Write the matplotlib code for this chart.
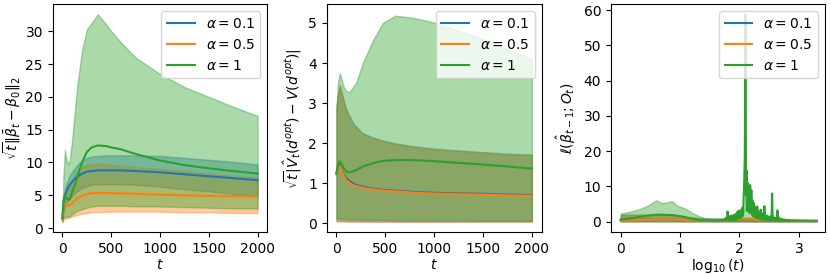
import numpy as np
import matplotlib
matplotlib.use('Agg')
import matplotlib.pyplot as plt

labels = [r'$\alpha=0.1$', r'$\alpha=0.5$', r'$\alpha=1$']
colors = ['C0', 'C1', 'C2']

# ---- panel 1: sqrt(t)||beta_bar - beta0||
t1 = [0, 10, 25, 40, 60, 75, 100, 125, 150, 200, 250, 300, 363, 450, 500, 600, 750, 1000, 1250, 1500, 1750, 2000]
b1_mid = [1.5, 3.5, 5.0, 5.6, 6.2, 6.6, 7.1, 7.5, 7.8, 8.3, 8.6, 8.7, 8.8, 8.8, 8.8, 8.8, 8.7, 8.5, 8.2, 7.9, 7.6, 7.3]
b1_hi = [2.0, 4.5, 5.8, 6.8, 7.5, 8.0, 8.6, 9.1, 9.6, 10.3, 10.7, 10.9, 11.0, 11.1, 11.1, 11.1, 11.1, 11.0, 10.7, 10.4, 10.1, 9.7]
b1_lo = [1.0, 2.2, 3.3, 3.8, 4.2, 4.5, 4.9, 5.3, 5.6, 6.1, 6.4, 6.6, 6.7, 6.7, 6.7, 6.7, 6.6, 6.3, 5.9, 5.6, 5.2, 4.9]
o1_mid = [1.2, 3.6, 3.7, 3.5, 3.4, 3.45, 3.8, 4.2, 4.5, 4.9, 5.2, 5.3, 5.35, 5.35, 5.3, 5.3, 5.2, 5.1, 5.0, 4.9, 4.85, 4.8]
o1_hi = [1.6, 4.5, 5.3, 5.5, 5.8, 6.3, 7.3, 8.0, 8.6, 9.3, 9.6, 9.8, 9.8, 9.7, 9.6, 9.5, 9.3, 9.0, 8.7, 8.3, 8.0, 7.7]
o1_lo = [0.9, 1.3, 1.5, 1.5, 1.5, 1.6, 1.8, 1.9, 2.0, 2.2, 2.3, 2.4, 2.4, 2.5, 2.5, 2.5, 2.5, 2.5, 2.4, 2.4, 2.3, 2.3]
g1_mid = [1.5, 4.2, 5.0, 4.6, 4.3, 4.4, 5.5, 6.5, 7.7, 10.0, 11.6, 12.3, 12.6, 12.5, 12.3, 12.0, 11.3, 10.3, 9.6, 9.1, 8.7, 8.3]
g1_hi = [1.5, 8.0, 11.9, 10.5, 9.7, 10.5, 13.5, 17.5, 21.5, 27.0, 30.3, 31.3, 32.6, 31.0, 30.0, 28.3, 26.0, 23.5, 21.5, 20.0, 18.5, 17.1]
g1_lo = [1.2, 1.5, 1.8, 1.7, 1.7, 1.8, 2.1, 2.4, 2.6, 2.9, 3.1, 3.3, 3.4, 3.4, 3.4, 3.4, 3.3, 3.3, 3.2, 3.1, 3.0, 3.0]

# ---- panel 2: sqrt(t)|V_hat - V|
t2 = [0, 15, 35, 50, 75, 100, 130, 170, 200, 270, 370, 475, 600, 780, 950, 1200, 1500, 1750, 2000]
b2_mid = [1.25, 1.4, 1.46, 1.38, 1.22, 1.13, 1.06, 1.0, 0.96, 0.92, 0.87, 0.84, 0.82, 0.79, 0.77, 0.75, 0.74, 0.72, 0.71]
b2_hi = [2.9, 3.2, 3.45, 3.3, 3.05, 2.85, 2.7, 2.5, 2.42, 2.25, 2.15, 2.07, 2.0, 1.93, 1.88, 1.83, 1.78, 1.74, 1.72]
b2_lo = [0.07, 0.07, 0.06, 0.06, 0.06, 0.06, 0.06, 0.06, 0.06, 0.06, 0.05, 0.05, 0.05, 0.05, 0.05, 0.05, 0.05, 0.05, 0.05]
o2_mid = [1.22, 1.38, 1.43, 1.35, 1.18, 1.08, 1.02, 0.96, 0.93, 0.89, 0.85, 0.82, 0.8, 0.77, 0.75, 0.73, 0.72, 0.7, 0.69]
o2_hi = [2.85, 3.2, 3.42, 3.28, 3.02, 2.82, 2.67, 2.48, 2.4, 2.23, 2.12, 2.05, 1.98, 1.91, 1.86, 1.81, 1.76, 1.72, 1.7]
o2_lo = [0.05, 0.05, 0.05, 0.05, 0.05, 0.05, 0.04, 0.04, 0.04, 0.04, 0.04, 0.04, 0.04, 0.04, 0.04, 0.04, 0.04, 0.04, 0.04]
g2_mid = [1.25, 1.45, 1.55, 1.5, 1.38, 1.3, 1.27, 1.3, 1.33, 1.42, 1.5, 1.56, 1.58, 1.58, 1.56, 1.52, 1.47, 1.42, 1.37]
g2_hi = [2.9, 3.5, 3.75, 3.6, 3.4, 3.3, 3.27, 3.4, 3.5, 4.0, 4.55, 5.0, 5.18, 5.13, 5.04, 4.85, 4.6, 4.35, 4.1]
g2_lo = [0.13, 0.12, 0.12, 0.11, 0.11, 0.1, 0.1, 0.1, 0.1, 0.09, 0.09, 0.09, 0.08, 0.08, 0.08, 0.08, 0.07, 0.07, 0.07]

# ---- panel 3: loss vs log10(t)
lx3 = [0, 0.15, 0.3, 0.45, 0.6, 0.7, 0.8, 0.87, 0.95, 1.03, 1.1, 1.2, 1.3, 1.4, 1.5, 1.6, 1.7, 1.8, 1.9,
       2.0, 2.05, 2.09, 2.1, 2.11, 2.15, 2.2, 2.3, 2.4, 2.5, 2.55, 2.6, 2.7, 2.8, 2.9, 3.0, 3.1, 3.2, 3.301]
b3_mid = [0.35, 0.45, 0.55, 0.65, 0.7, 0.72, 0.7, 0.68, 0.6, 0.55, 0.5, 0.42, 0.35, 0.3, 0.28, 0.3, 0.35, 0.4, 0.45,
          0.5, 0.55, 0.55, 0.55, 0.55, 0.55, 0.5, 0.45, 0.4, 0.35, 0.35, 0.3, 0.28, 0.25, 0.25, 0.22, 0.22, 0.2, 0.2]
b3_hi = [2.0, 2.0, 2.0, 2.0, 2.0, 2.0, 2.0, 1.9, 1.8, 1.6, 1.5, 1.3, 1.1, 1.0, 1.0, 1.0, 1.0, 0.95, 0.9,
         0.9, 1.0, 1.0, 1.0, 1.0, 1.0, 1.0, 0.9, 0.8, 0.7, 0.7, 0.6, 0.5, 0.5, 0.5, 0.45, 0.45, 0.45, 0.45]
b3_lo = [0.1, 0.1, 0.1, 0.1, 0.1, 0.1, 0.1, 0.1, 0.1, 0.1, 0.1, 0.08, 0.08, 0.08, 0.08, 0.08, 0.08, 0.08, 0.08,
         0.08, 0.08, 0.08, 0.08, 0.08, 0.08, 0.08, 0.07, 0.07, 0.07, 0.07, 0.07, 0.06, 0.06, 0.06, 0.06, 0.06, 0.06, 0.06]
o3_mid = [0.3, 0.4, 0.5, 0.6, 0.68, 0.7, 0.68, 0.65, 0.58, 0.52, 0.47, 0.4, 0.33, 0.28, 0.25, 0.27, 0.32, 0.4, 0.5,
          0.6, 0.65, 0.65, 0.65, 0.65, 0.65, 0.6, 0.55, 0.45, 0.4, 0.35, 0.32, 0.28, 0.25, 0.24, 0.22, 0.2, 0.2, 0.2]
o3_hi = [1.9, 1.9, 1.95, 2.0, 2.0, 2.0, 1.95, 1.85, 1.7, 1.5, 1.3, 1.1, 0.9, 0.8, 0.7, 0.7, 0.7, 0.8, 0.9,
         1.0, 1.1, 1.1, 1.2, 1.2, 1.1, 1.1, 1.0, 0.9, 0.7, 0.7, 0.6, 0.5, 0.45, 0.45, 0.4, 0.4, 0.4, 0.4]
o3_lo = [0.08, 0.08, 0.08, 0.08, 0.08, 0.08, 0.08, 0.08, 0.08, 0.08, 0.07, 0.07, 0.07, 0.07, 0.07, 0.07, 0.07, 0.07, 0.07,
         0.07, 0.07, 0.07, 0.07, 0.07, 0.07, 0.07, 0.06, 0.06, 0.06, 0.06, 0.06, 0.05, 0.05, 0.05, 0.05, 0.05, 0.05, 0.05]
g3_hi = [2.3, 2.8, 3.5, 4.5, 6.1, 5.2, 5.6, 5.8, 4.5, 4.1, 3.6, 2.5, 1.7, 1.1, 0.8, 0.7, 0.8, 1.2, 1.5,
         2.0, 2.5, 4.0, 59.0, 4.0, 3.5, 3.0, 2.3, 1.8, 1.5, 2.0, 1.2, 0.9, 0.7, 0.6, 0.55, 0.5, 0.5, 0.5]
g3_lo = [0.15, 0.15, 0.15, 0.15, 0.15, 0.15, 0.15, 0.12, 0.12, 0.12, 0.12, 0.1, 0.1, 0.1, 0.1, 0.1, 0.1, 0.1, 0.1,
         0.1, 0.1, 0.1, 0.1, 0.1, 0.1, 0.1, 0.1, 0.1, 0.08, 0.08, 0.08, 0.08, 0.08, 0.08, 0.08, 0.08, 0.08, 0.08]

# green mean is noisy around log10(t) ~ 2
g3_x_early = [0, 0.15, 0.3, 0.45, 0.6, 0.7, 0.8, 0.87, 0.95, 1.03, 1.1, 1.2, 1.3, 1.4, 1.5, 1.6, 1.7]
g3_early = [0.6, 0.9, 1.3, 1.7, 2.0, 2.0, 1.9, 1.9, 1.7, 1.5, 1.2, 0.8, 0.55, 0.4, 0.35, 0.3, 0.35]
g3_noisy = [0.5, 0.9, 0.4, 1.1, 0.6,
            2.9, 1.0, 0.5,
            1.6, 0.5, 1.3, 0.4, 1.8, 0.6, 1.5, 0.4, 2.0, 0.7, 1.7, 0.5,
            2.4, 0.8, 2.9, 1.0, 3.1, 1.2, 2.6, 0.9, 3.4, 1.4, 4.0,
            1.6, 6.5, 11.5, 18.9, 58.8, 7.5, 14.5, 3.0, 11.0, 3.5, 9.5, 2.5, 10.4, 3.0, 9.0,
            2.0, 6.0, 1.5, 5.3, 2.0, 4.2, 1.2, 3.6, 1.0, 4.3, 1.2, 3.0, 0.9, 2.8, 0.8,
            3.4, 0.7, 2.4, 0.6, 2.2, 0.6, 4.4, 0.6, 1.9, 1.5, 0.5, 1.7, 0.5, 1.4, 0.5,
            1.3, 0.4, 1.5, 0.4, 8.0, 0.4, 1.1, 0.4, 1.0, 0.3, 1.0, 0.3, 0.9, 3.2, 0.3,
            1.3, 0.3, 0.8, 0.3, 0.8, 0.3, 0.7, 0.3, 0.6, 0.3, 0.6, 0.3, 0.5, 0.3, 0.5, 0.3, 0.45, 0.3, 0.4, 0.3]
g3_x_late = [2.9, 3.0, 3.1, 3.2, 3.301]
g3_late = [0.35, 0.3, 0.3, 0.28, 0.28]

g3_x = np.concatenate([g3_x_early, 1.75 + 0.01 * np.arange(len(g3_noisy)), g3_x_late])
g3_mid = np.concatenate([g3_early, g3_noisy, g3_late])


fig = plt.figure(figsize=(8.3, 2.77), dpi=100)
ax1 = fig.add_axes([0.0635, 0.1614, 0.2586, 0.8224])
ax2 = fig.add_axes([0.3936, 0.1614, 0.2590, 0.8224])
ax3 = fig.add_axes([0.7361, 0.1614, 0.2578, 0.8224])

def draw(ax, x, mids, his, los, mx=None):
    for i in range(3):
        xi = x if (mx is None or i < 2) else mx
        ax.plot(xi, mids[i], color=colors[i], lw=1.5, label=labels[i])
        ax.fill_between(x, los[i], his[i], color=colors[i], alpha=0.4)

draw(ax1, t1, [b1_mid, o1_mid, g1_mid], [b1_hi, o1_hi, g1_hi], [b1_lo, o1_lo, g1_lo])
ax1.set_xlim(-100, 2100)
ax1.set_ylim(-0.65, 34.1)
ax1.set_xlabel(r'$t$', labelpad=1.5)
ax1.set_ylabel(r'$\sqrt{t}\|\bar{\beta}_t-\beta_0\|_2$', labelpad=2)
ax1.legend(loc='upper right')

draw(ax2, t2, [b2_mid, o2_mid, g2_mid], [b2_hi, o2_hi, g2_hi], [b2_lo, o2_lo, g2_lo])
ax2.set_xlim(-100, 2100)
ax2.set_ylim(-0.22, 5.46)
ax2.set_xlabel(r'$t$', labelpad=1.5)
ax2.set_ylabel(r'$\sqrt{t}|\hat{V}_t(d^{opt})-V(d^{opt})|$', labelpad=3)
ax2.legend(loc='upper right')

draw(ax3, lx3, [b3_mid, o3_mid, g3_mid], [b3_hi, o3_hi, g3_hi], [b3_lo, o3_lo, g3_lo], mx=g3_x)
ax3.set_xlim(-0.165, 3.44)
ax3.set_ylim(-3.0, 61.6)
ax3.set_xlabel(r'$\log_{10}(t)$', labelpad=1)
ax3.set_ylabel(r'$\ell(\hat{\beta}_{t-1};O_t)$')
ax3.legend(loc='upper right')

fig.savefig('out.png', dpi=100)
